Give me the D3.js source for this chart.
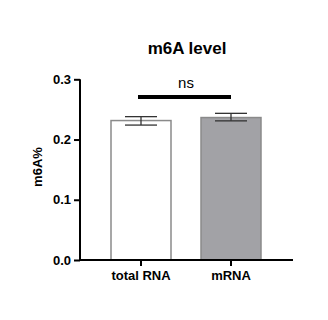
<!DOCTYPE html>
<html>
<head>
<meta charset="utf-8">
<script src="https://cdn.jsdelivr.net/npm/d3@7"></script>
<style>
  body { margin: 0; background: #fff; }
  text { font-family: "Liberation Sans", Arial, sans-serif; font-weight: bold; }
</style>
</head>
<body>
<div id="chart"></div>
<script>
// data
var categories = ["total RNA", "mRNA"];
var means = [0.2315, 0.2365];
var errLow = [0.224, 0.231];
var errHigh = [0.238, 0.2435];
var fills = ["#ffffff", "#a2a2a6"];
var yTicks = [0.0, 0.1, 0.2, 0.3];

var w = 328, h = 320;
var svg = d3.select("#chart").append("svg")
    .attr("width", w)
    .attr("height", h);

var y = d3.scaleLinear().domain([0, 0.3]).range([260, 79.3]);
var x = d3.scaleBand().domain(categories).range([96, 276]).paddingInner(1 / 3).paddingOuter(1 / 6);

// bars
svg.selectAll("rect.bar").data(categories)
  .enter().append("rect")
  .attr("class", "bar")
  .attr("x", function(d) { return x(d); })
  .attr("y", function(d, i) { return y(means[i]); })
  .attr("width", x.bandwidth())
  .attr("height", function(d, i) { return y(0) - y(means[i]); })
  .style("fill", function(d, i) { return fills[i]; })
  .style("stroke", "#8a8a8a")
  .style("stroke-width", 1.5);

// error bars
var cx = function(d) { return x(d) + x.bandwidth() / 2; };
var err = svg.selectAll("g.err").data(categories).enter().append("g");
err.each(function(d, i) {
  var g = d3.select(this);
  var c = cx(d);
  g.append("line").attr("x1", c).attr("x2", c)
    .attr("y1", y(errLow[i])).attr("y2", y(errHigh[i]));
  [errLow[i], errHigh[i]].forEach(function(v) {
    g.append("line").attr("x1", c - 16).attr("x2", c + 16)
      .attr("y1", y(v)).attr("y2", y(v));
  });
  g.selectAll("line").style("stroke", "#333").style("stroke-width", 1.3);
});

// axes
var yAxis = svg.append("g")
  .attr("transform", "translate(80,0)")
  .call(d3.axisLeft(y).tickValues(yTicks).tickFormat(d3.format(".1f")).tickSize(6).tickPadding(3));
var xAxis = svg.append("g")
  .attr("transform", "translate(0,260)")
  .call(d3.axisBottom(x).tickSize(6).tickPadding(5));
xAxis.select(".domain").attr("d", "M80,0H293");
yAxis.select(".domain").attr("d", "M0,79.3V260");
[xAxis, yAxis].forEach(function(a) {
  a.selectAll("path, line").style("stroke", "#000").style("stroke-width", 2);
  a.selectAll("text").style("font-size", "13px").style("fill", "#000")
    .style("font-family", "'Liberation Sans', Arial, sans-serif").style("font-weight", "bold");
});

// significance
svg.append("line")
  .attr("x1", cx(categories[0]) - 3).attr("x2", cx(categories[1]))
  .attr("y1", 97).attr("y2", 97)
  .style("stroke", "#000").style("stroke-width", 4);
svg.append("text")
  .attr("x", (cx(categories[0]) + cx(categories[1])) / 2)
  .attr("y", 88)
  .attr("text-anchor", "middle")
  .style("font-size", "15px")
  .style("font-weight", "normal")
  .text("ns");

// title
svg.append("text")
  .attr("x", 187).attr("y", 54)
  .attr("text-anchor", "middle")
  .style("font-size", "17px")
  .text("m6A level");

// y label
svg.append("text")
  .attr("transform", "translate(42,167) rotate(-90)")
  .attr("text-anchor", "middle")
  .style("font-size", "13px")
  .text("m6A%");
</script>
</body>
</html>
